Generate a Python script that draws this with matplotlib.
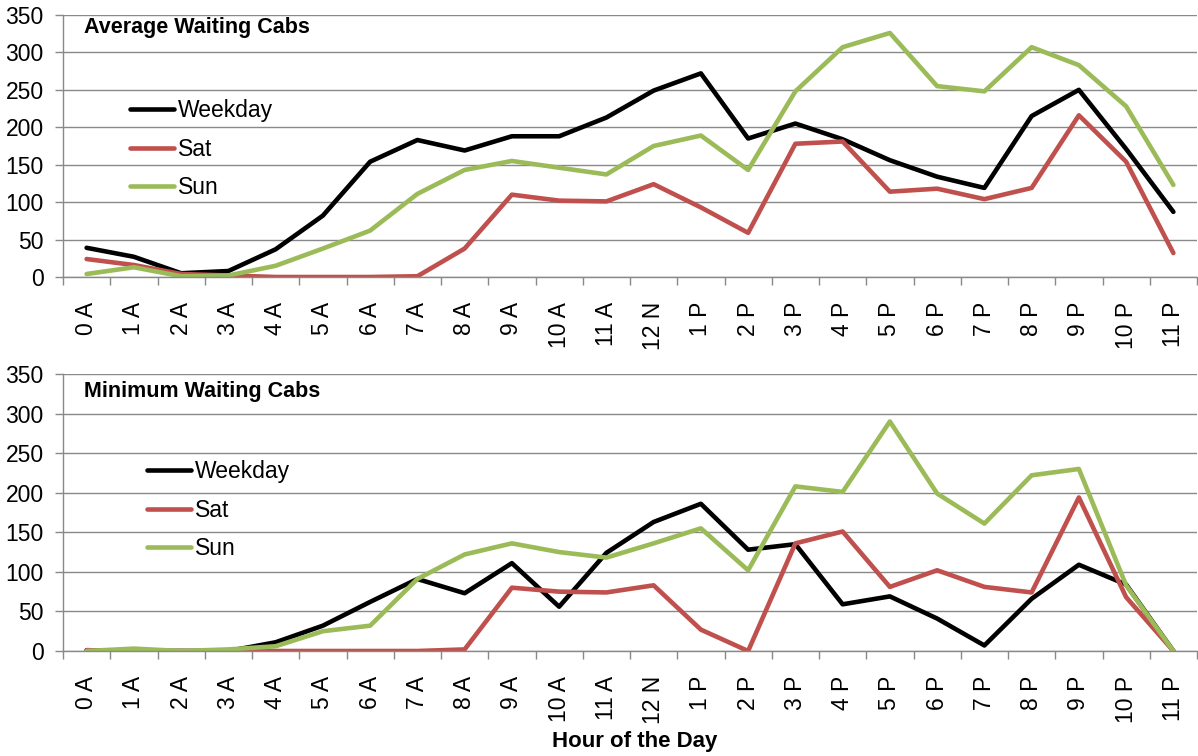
import matplotlib
matplotlib.use("Agg")
import matplotlib.pyplot as plt
import numpy as np

hours = ["0 A", "1 A", "2 A", "3 A", "4 A", "5 A", "6 A", "7 A", "8 A", "9 A", "10 A", "11 A",
         "12 N", "1 P", "2 P", "3 P", "4 P", "5 P", "6 P", "7 P", "8 P", "9 P", "10 P", "11 P"]

avg_weekday = [39, 27, 5, 8, 37, 82, 154, 183, 169, 188, 188, 213,
               249, 272, 185, 205, 184, 156, 134, 119, 215, 250, 171, 87]
avg_sat = [24, 16, 4, 2, 0, 0, 0, 1, 38, 110, 102, 101,
           124, 93, 59, 178, 181, 114, 118, 104, 119, 216, 154, 32]
avg_sun = [4, 13, 1, 2, 15, 38, 62, 111, 143, 155, 146, 137,
           175, 189, 143, 248, 307, 326, 255, 248, 307, 283, 228, 123]

min_weekday = [1, 0, 0, 0, 11, 32, 62, 91, 73, 111, 56, 124,
               163, 186, 128, 135, 59, 69, 41, 7, 66, 109, 84, 0]
min_sat = [1, 0, 0, 0, 0, 0, 0, 0, 2, 80, 75, 74,
           83, 27, 0, 136, 151, 81, 102, 81, 74, 194, 68, 0]
min_sun = [0, 3, 0, 2, 6, 25, 32, 91, 122, 136, 125, 118,
           136, 155, 102, 208, 201, 290, 199, 161, 222, 230, 83, 0]

series_names = ["Weekday", "Sat", "Sun"]
colors = ["#000000", "#C0504D", "#9BBB59"]
yticks = [0, 50, 100, 150, 200, 250, 300, 350]

plt.rcParams['font.family'] = ['Liberation Sans', 'DejaVu Sans']

W, H = 1198, 756
fig = plt.figure(figsize=(W / 100, H / 100), dpi=100)

def px_axes(left, top, right, bottom):
    return fig.add_axes([left / W, 1 - bottom / H, (right - left) / W, (bottom - top) / H])

grid_col = "#898989"

def setup(ax, data, title, title_xy, leg_xy):
    x = np.arange(len(hours))
    for vals, name, c in zip(data, series_names, colors):
        ax.plot(x, vals, color=c, lw=3.3, label=name, solid_capstyle='round',
                solid_joinstyle='round')
    ax.set_xlim(-0.5, len(hours) - 0.5)
    ax.set_ylim(0, 350)
    ax.set_yticks(yticks)
    ax.set_yticklabels([str(v) for v in yticks], fontsize=16.5)
    ax.set_xticks(x)
    ax.set_xticklabels(hours, rotation=90, fontsize=16.5, va='top', ha='center')
    ax.set_xticks(np.arange(-0.5, len(hours), 1.0), minor=True)
    ax.tick_params(axis='x', which='major', length=0, pad=18)
    ax.tick_params(axis='x', which='minor', length=6, width=1.0, color=grid_col, direction='out')
    ax.tick_params(axis='y', length=6, width=1.0, color=grid_col, pad=8)
    ax.grid(axis='y', color=grid_col, lw=1.0)
    ax.set_axisbelow(True)
    for s in ['top', 'right']:
        ax.spines[s].set_visible(False)
    for s in ['left', 'bottom']:
        ax.spines[s].set_color(grid_col)
        ax.spines[s].set_linewidth(1.0)
    fig.text(title_xy[0] / W, 1 - title_xy[1] / H, title, fontsize=15.5, fontweight='bold',
             ha='left', va='center')
    ax.legend(loc='upper left', bbox_to_anchor=(leg_xy[0] / W, 1 - leg_xy[1] / H),
              bbox_transform=fig.transFigure, frameon=False, fontsize=16.5,
              handlelength=1.9, handletextpad=0.2, labelspacing=0.68, borderpad=0,
              borderaxespad=0)

ax1 = px_axes(63, 15, 1197, 277)
setup(ax1, [avg_weekday, avg_sat, avg_sun], "Average Waiting Cabs", (84, 27), (130, 99))

ax2 = px_axes(63, 374, 1197, 651)
setup(ax2, [min_weekday, min_sat, min_sun], "Minimum Waiting Cabs", (84, 391), (147, 460))

fig.text(635 / W, 1 - 742 / H, "Hour of the Day", fontsize=16, fontweight='bold',
         ha='center', va='center')

fig.savefig("out.png", dpi=100)
